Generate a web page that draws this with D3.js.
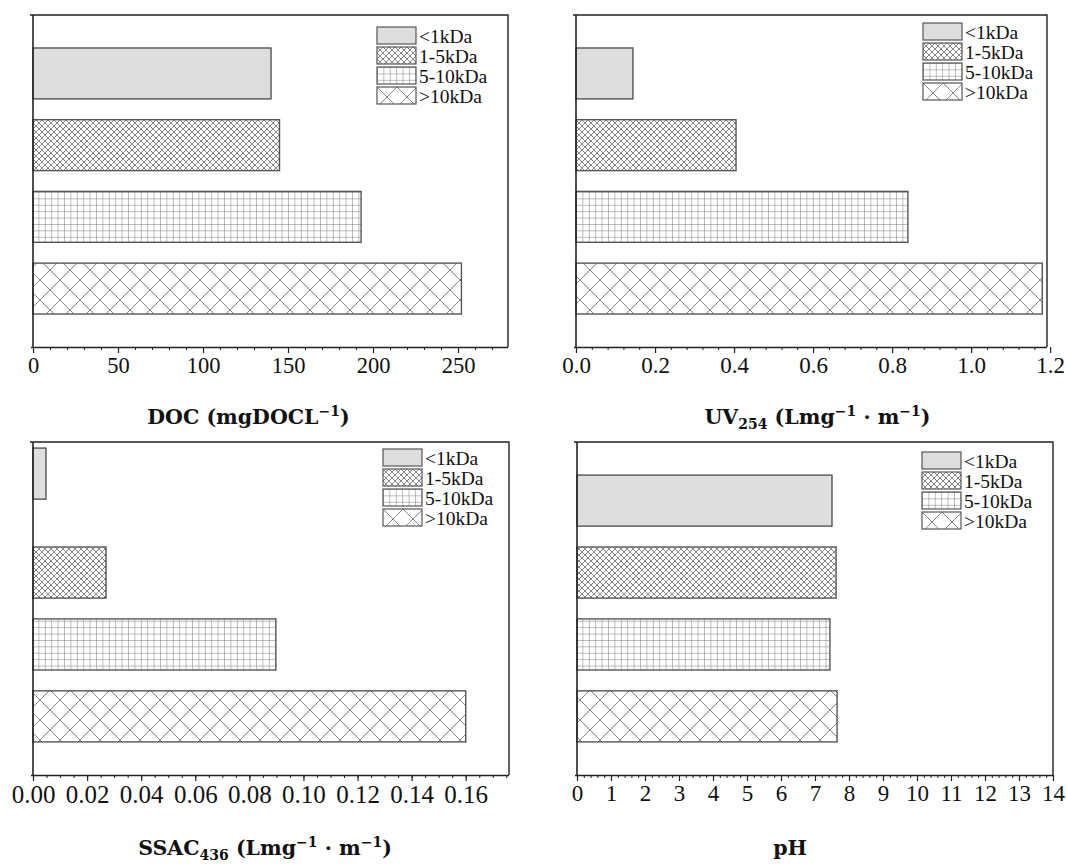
<!DOCTYPE html>
<html>
<head>
<meta charset="utf-8">
<script src="https://cdn.jsdelivr.net/npm/d3@7"></script>
<style>
  body { margin: 0; background: #fff; }
  svg { display: block; }
</style>
</head>
<body>
<svg id="chart" width="1067" height="864"></svg>
<script>
// size fractions, in drawing order (top to bottom)
const sizeClasses = ["<1kDa", "1-5kDa", "5-10kDa", ">10kDa"];
const patternIds = ["p-solid", "p-fine", "p-grid", "p-coarse"];

// values
const docValues = [140, 145, 193, 252];
const uvValues = [0.144, 0.405, 0.84, 1.18];
const ssacValues = [0.0048, 0.027, 0.0898, 0.160];
const phValues = [7.5, 7.62, 7.44, 7.65];

const docTicks = [0, 50, 100, 150, 200, 250];
const uvTicks = [0, 0.2, 0.4, 0.6, 0.8, 1.0, 1.2];
const ssacTicks = [0, 0.02, 0.04, 0.06, 0.08, 0.10, 0.12, 0.14, 0.16];
const phTicks = [0, 1, 2, 3, 4, 5, 6, 7, 8, 9, 10, 11, 12, 13, 14];

const serif = "'Liberation Serif', 'Times New Roman', Times, serif";

const panels = [
  { x0: 33, x1: 508, y0: 15, y1: 347, max: 279.4, values: docValues, ticks: docTicks, minorStep: 10, fmt: d3.format("d"),
    tickSize: 22.5, title: [["DOC (mgDOCL", ""], ["−1", "sup"], [")", ""]], titleY: 424, titleDx: -22, leg: [377, 27], firstShift: 0 },
  { x0: 576, x1: 1047, y0: 15, y1: 347, max: 1.192, values: uvValues, ticks: uvTicks, minorStep: 0.04, fmt: d3.format(".1f"),
    tickSize: 23, title: [["UV", ""], ["254", "sub"], [" (Lmg", ""], ["−1", "sup"], [" · m", ""], ["−1", "sup"], [")", ""]], titleY: 424, titleDx: 6, leg: [923, 23], firstShift: 0 },
  { x0: 33, x1: 509, y0: 442, y1: 775, max: 0.176, values: ssacValues, ticks: ssacTicks, minorStep: 0.005, fmt: d3.format(".2f"),
    tickSize: 25, title: [["SSAC", ""], ["436", "sub"], [" (Lmg", ""], ["−1", "sup"], [" · m", ""], ["−1", "sup"], [")", ""]], titleY: 855, titleDx: -6, leg: [383, 449], firstShift: -27 },
  { x0: 577, x1: 1053, y0: 442, y1: 775, max: 14, values: phValues, ticks: phTicks, minorStep: 0.2, fmt: d3.format("d"),
    tickSize: 23, title: [["pH", ""]], titleY: 855, titleDx: -25, leg: [922, 452], firstShift: 0 }
];

const svg = d3.select("#chart");
const defs = svg.append("defs");

// hatch patterns
function addPattern(id, size, lines, color) {
  const p = defs.append("pattern")
    .attr("id", id)
    .attr("patternUnits", "userSpaceOnUse")
    .attr("width", size).attr("height", size);
  p.append("rect").attr("width", size).attr("height", size).attr("fill", "#fff");
  lines.forEach(l => {
    p.append("line")
      .attr("x1", l[0]).attr("y1", l[1]).attr("x2", l[2]).attr("y2", l[3])
      .attr("stroke", color).attr("stroke-width", 0.9);
  });
}
addPattern("p-fine", 6, [[0, 0, 6, 6], [6, 0, 0, 6], [-1, 5, 1, 7], [5, -1, 7, 1], [5, 7, 7, 5], [-1, 1, 1, -1]], "#7a7a7a");
addPattern("p-grid", 6.4, [[0, 0, 6.4, 0], [0, 0, 0, 6.4]], "#707070");
addPattern("p-coarse", 20, [[0, 0, 20, 20], [20, 0, 0, 20]], "#7a7a7a");

function fillFor(i) {
  return i === 0 ? "#dedede" : `url(#${patternIds[i]})`;
}

panels.forEach(pn => {
  const g = svg.append("g");
  const x = d3.scaleLinear().domain([0, pn.max]).range([pn.x0, pn.x1]);
  const y = d3.scaleBand().domain(sizeClasses).range([pn.y0, pn.y1])
    .paddingInner(0.29).paddingOuter(0.46);

  // bars
  g.selectAll("rect.bar")
    .data(pn.values)
    .join("rect")
    .attr("class", "bar")
    .attr("x", x(0))
    .attr("y", (d, i) => y(sizeClasses[i]) + (i === 0 ? pn.firstShift : 0))
    .attr("width", d => x(d) - x(0))
    .attr("height", y.bandwidth())
    .attr("fill", (d, i) => fillFor(i))
    .attr("stroke", "#555")
    .attr("stroke-width", 1.4);

  // frame: top and right
  g.append("path")
    .attr("d", `M${pn.x0 - 3},${pn.y0}H${pn.x1}V${pn.y1}`)
    .attr("fill", "none").attr("stroke", "#222").attr("stroke-width", 1.4);
  // left axis line
  g.append("line")
    .attr("x1", pn.x0).attr("x2", pn.x0).attr("y1", pn.y0).attr("y2", pn.y1)
    .attr("stroke", "#222").attr("stroke-width", 1.6);

  // minor ticks
  const minor = d3.range(0, pn.max + 1e-9, pn.minorStep);
  g.append("g")
    .attr("transform", `translate(0,${pn.y1})`)
    .call(d3.axisBottom(x).tickValues(minor).tickSize(3).tickFormat(""))
    .call(a => a.select(".domain").remove())
    .call(a => a.selectAll("line").attr("stroke", "#222").attr("stroke-width", 1));

  // major ticks + labels
  const ax = g.append("g")
    .attr("transform", `translate(0,${pn.y1})`)
    .call(d3.axisBottom(x).tickValues(pn.ticks).tickSize(6).tickSizeOuter(0).tickFormat(pn.fmt));
  ax.select(".domain").attr("stroke", "#222").attr("stroke-width", 1.4)
    .attr("d", `M${pn.x0 - 2},0.5H${pn.x1}`);
  ax.selectAll("line").attr("stroke", "#222").attr("stroke-width", 1.2);
  ax.selectAll("text")
    .attr("y", 10)
    .attr("dy", "0.71em")
    .attr("font-family", serif)
    .attr("font-size", pn.tickSize)
    .attr("fill", "#111");

  // axis title
  const t = g.append("text")
    .attr("x", (pn.x0 + pn.x1) / 2 + pn.titleDx)
    .attr("y", pn.titleY)
    .attr("text-anchor", "middle")
    .attr("font-family", "'DejaVu Serif', serif")
    .attr("font-weight", "bold")
    .attr("font-size", 20.5)
    .attr("fill", "#111");
  pn.title.forEach(part => {
    const s = t.append("tspan").text(part[0]);
    if (part[1] === "sup") s.attr("font-size", 14).attr("baseline-shift", "8px");
    if (part[1] === "sub") s.attr("font-size", 14).attr("baseline-shift", "-5px");
  });

  // legend
  const lg = g.append("g").attr("transform", `translate(${pn.leg[0]},${pn.leg[1]})`);
  const row = lg.selectAll("g").data(sizeClasses).join("g")
    .attr("transform", (d, i) => `translate(0,${i * 20})`);
  row.append("rect")
    .attr("width", 39).attr("height", 17)
    .attr("fill", (d, i) => fillFor(i))
    .attr("stroke", "#555").attr("stroke-width", 1.2);
  row.append("text")
    .attr("x", 42).attr("y", 15.5)
    .attr("font-family", serif)
    .attr("font-size", 19.5)
    .attr("fill", "#111")
    .text(d => d);
});
</script>
</body>
</html>
